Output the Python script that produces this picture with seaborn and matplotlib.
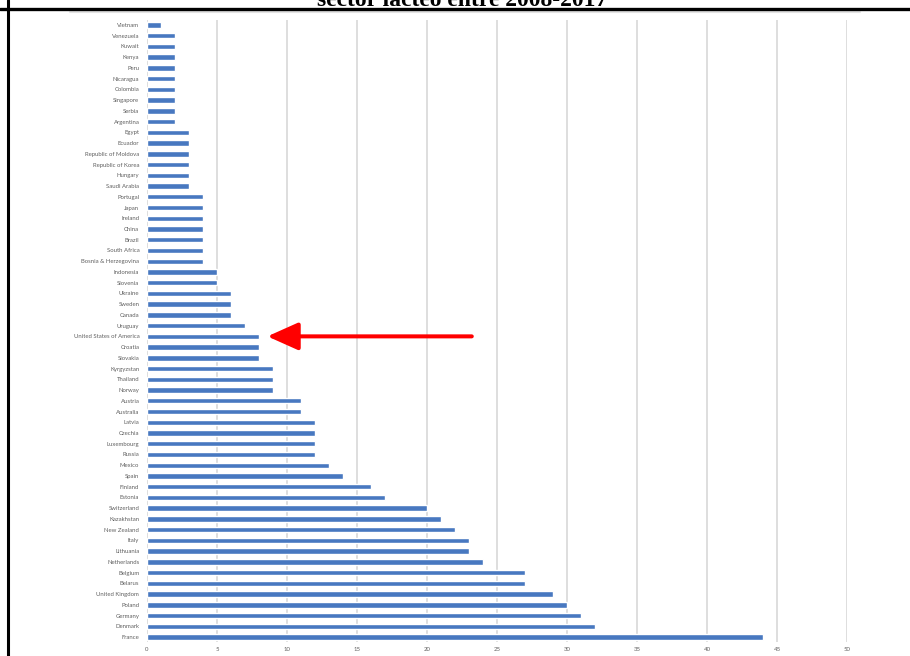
import matplotlib
matplotlib.use("Agg")
import matplotlib.pyplot as plt
import seaborn as sns
import pandas as pd
from matplotlib.lines import Line2D

countries = [
    "Vietnam", "Venezuela", "Kuwait", "Kenya", "Peru", "Nicaragua", "Colombia",
    "Singapore", "Serbia", "Argentina", "Egypt", "Ecuador", "Republic of Moldova",
    "Republic of Korea", "Hungary", "Saudi Arabia", "Portugal", "Japan", "Ireland",
    "China", "Brazil", "South Africa", "Bosnia & Herzegovina", "Indonesia",
    "Slovenia", "Ukraine", "Sweden", "Canada", "Uruguay", "United States of America",
    "Croatia", "Slovakia", "Kyrgyzstan", "Thailand", "Norway", "Austria",
    "Australia", "Latvia", "Czechia", "Luxembourg", "Russia", "Mexico", "Spain",
    "Finland", "Estonia", "Switzerland", "Kazakhstan", "New Zealand", "Italy",
    "Lithuania", "Netherlands", "Belgium", "Belarus", "United Kingdom", "Poland",
    "Germany", "Denmark", "France",
]
values = [
    1, 2, 2, 2, 2, 2, 2, 2, 2, 2,
    3, 3, 3, 3, 3, 3,
    4, 4, 4, 4, 4, 4, 4,
    5, 5, 6, 6, 6, 7, 8, 8, 8, 9, 9, 9,
    11, 11, 12, 12, 12, 12, 13, 14, 16, 17,
    20, 21, 22, 23, 23, 24, 27, 27, 29, 30, 31, 32, 44,
]
x_ticks = [0, 5, 10, 15, 20, 25, 30, 35, 40, 45, 50]
title_text = "sector lácteo entre 2008-2017"
highlight = "United States of America"

df = pd.DataFrame({"country": countries, "value": values})

sns.set_theme(style="white")
fig = plt.figure(figsize=(9.10, 6.56), dpi=100)
W, H = 910, 656
ax = fig.add_axes([147 / W, 1 - 642.4 / H, 700 / W, (642.4 - 19.6) / H])

sns.barplot(data=df, y="country", x="value", order=countries, orient="h",
            color="#4878C0", saturation=1, width=0.5, ax=ax)

ax.set_xlim(0, 50)
ax.set_ylim(len(countries) - 0.5, -0.5)
ax.set_xticks(x_ticks)
ax.set_xticklabels([str(t) for t in x_ticks])
ax.set_xlabel("")
ax.set_ylabel("")
ax.xaxis.grid(True, color="#dedede", linewidth=1.4)
ax.yaxis.grid(False)
ax.set_axisbelow(True)
for s in ax.spines.values():
    s.set_visible(False)
ax.tick_params(axis="both", length=0, labelsize=4.3, labelcolor="#606060")
ax.tick_params(axis="y", pad=5.5)
ax.tick_params(axis="x", pad=3)
for lab in ax.get_xticklabels() + ax.get_yticklabels():
    lab.set_family("Lato")

# red arrow pointing to the highlighted country
yi = countries.index(highlight)
ax.annotate("", xy=(8.6, yi), xytext=(23.2, yi),
            arrowprops=dict(arrowstyle="-|>,head_length=1.9,head_width=0.85",
                            color="#FF0000", lw=2.9, shrinkA=0, shrinkB=0,
                            mutation_scale=10))

# document frame lines
fig.add_artist(Line2D([70 / W, 860 / W], [1 - 11.5 / H, 1 - 11.5 / H],
                      color="#e3e3e3", lw=1.5, transform=fig.transFigure))
fig.add_artist(Line2D([0, 1], [1 - 8.5 / H, 1 - 8.5 / H],
                      color="black", lw=2.4, transform=fig.transFigure))
fig.add_artist(Line2D([7.5 / W, 7.5 / W], [0, 1],
                      color="black", lw=2.2, transform=fig.transFigure))

fig.text(462 / W, 1 - 5.5 / H, title_text, ha="center", va="baseline",
         fontsize=17, fontweight="bold", family="Liberation Serif", color="black")

fig.savefig("out.png", dpi=100, facecolor="white")
